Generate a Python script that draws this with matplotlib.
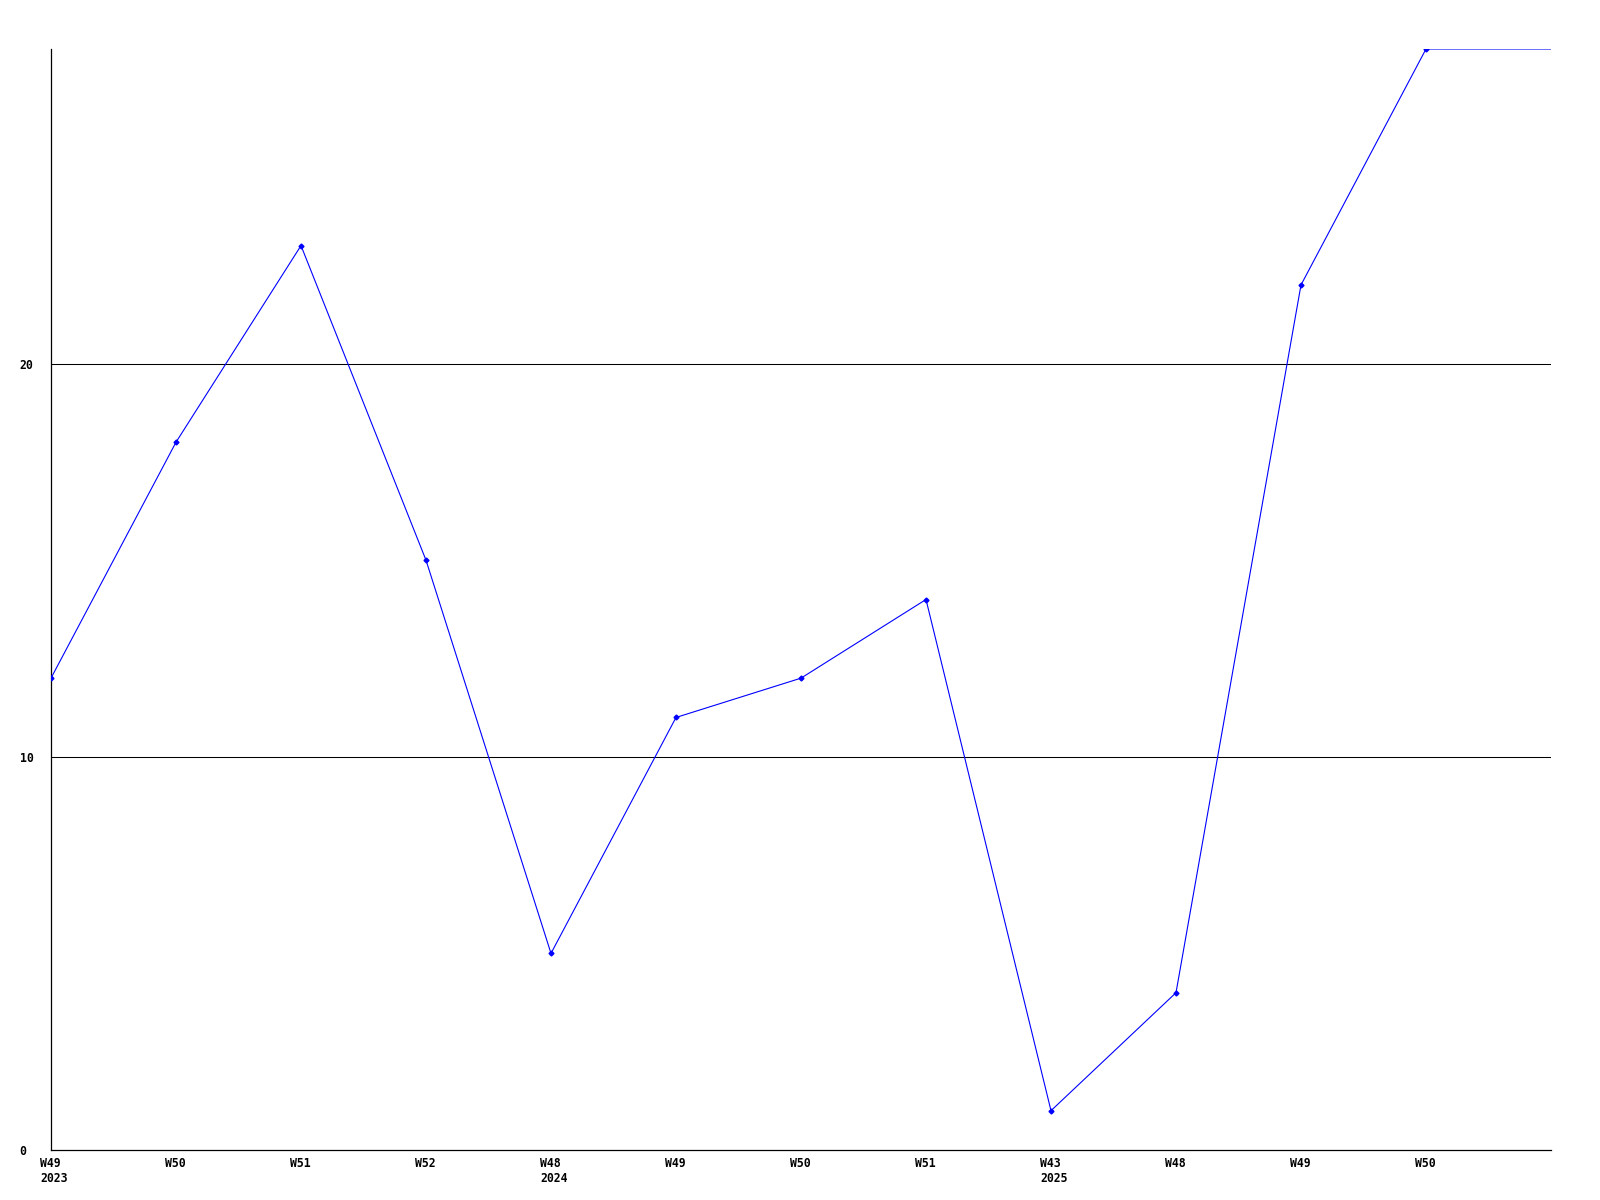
import matplotlib
matplotlib.use("Agg")
import matplotlib.pyplot as plt
from matplotlib.transforms import ScaledTranslation

weeks = ["W49", "W50", "W51", "W52", "W48", "W49", "W50", "W51", "W43", "W48", "W49", "W50"]
years = ["2023", "", "", "", "2024", "", "", "", "2025", "", "", ""]
values = [12, 18, 23, 15, 5, 11, 12, 14, 1, 4, 22, 28]
yticks = [0, 10, 20]

fig = plt.figure(figsize=(16, 12), dpi=100)
ax = fig.add_axes([51/1600, 1 - 1150/1200, 1500/1600, 1101/1200])

n = len(values)
xs = list(range(n + 1))
ys = values + [values[-1]]
ax.plot(xs, ys, color=(0, 0, 1), lw=0.8, marker="D", ms=2.5,
        markevery=list(range(n)), solid_joinstyle="miter", zorder=3)

ax.set_xlim(0, n)
ax.set_ylim(0, 28)

for y in yticks[1:]:
    ax.axhline(y, color="black", lw=0.75, zorder=1)

for s in ["top", "right"]:
    ax.spines[s].set_visible(False)
for s in ["left", "bottom"]:
    ax.spines[s].set_color("black")
    ax.spines[s].set_linewidth(0.9)

font = dict(family="DejaVu Sans Mono", weight="bold", size=8.3)

ax.set_xticks(range(n))
labels = [w + ("\n" + y if y else "") for w, y in zip(weeks, years)]
ax.set_xticklabels(labels, **font, ha="left", va="top", linespacing=1.25)
ax.tick_params(axis="x", length=0, pad=5)
off = ScaledTranslation(-11/100, 0, fig.dpi_scale_trans)
for lab in ax.get_xticklabels():
    lab.set_transform(lab.get_transform() + off)

ax.set_yticks(yticks)
ax.set_yticklabels([str(v) for v in yticks], **font, ha="left")
ax.tick_params(axis="y", length=0, pad=22.5)

fig.savefig("out.png", dpi=100, facecolor="white")
